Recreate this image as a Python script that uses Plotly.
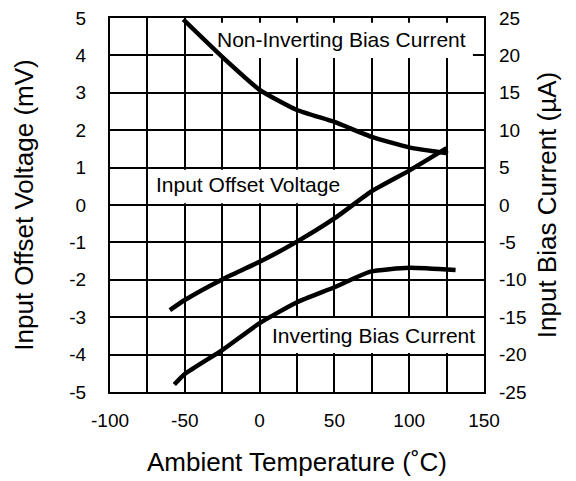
import plotly.graph_objects as go

# ---- data ----
temp_noninv = [-51, -25, 0, 25, 50, 75, 100, 126]
ibias_noninv = [24.8, 19.8, 15.4, 12.7, 11.1, 9.1, 7.7, 6.9]

temp_offset = [-60, -50, -25, 0, 25, 50, 75, 100, 125]
vos_offset = [-2.81, -2.54, -1.99, -1.52, -0.98, -0.36, 0.37, 0.92, 1.52]

temp_inv = [-57, -50, -25, 0, 25, 50, 74, 100, 131]
ibias_inv = [-24.0, -22.6, -19.4, -15.8, -13.0, -11.0, -8.9, -8.4, -8.7]

x_tickvals = [-100, -75, -50, -25, 0, 25, 50, 75, 100, 125, 150]
x_ticktext = ["-100", "", "-50", "", "0", "", "50", "", "100", "", "150"]
y1_tickvals = [-5, -4, -3, -2, -1, 0, 1, 2, 3, 4, 5]
y1_ticktext = ["-5", "-4", "-3", "-2", "-1", "0", "1", "2", "3", "4", "5"]
y2_tickvals = [-25, -20, -15, -10, -5, 0, 5, 10, 15, 20, 25]
y2_ticktext = ["-25", "-20", "-15", "-10", "-5", "0", "5", "10", "15", "20", "25"]

label_noninv = "Non-Inverting Bias Current"
label_offset = "Input Offset Voltage"
label_inv = "Inverting Bias Current"

FONT = "Liberation Sans, Arial, Helvetica, sans-serif"
LINE_W = 4.5

fig = go.Figure()
fig.add_trace(go.Scatter(x=temp_noninv, y=ibias_noninv, yaxis="y2", mode="lines",
                         line=dict(color="black", width=LINE_W, shape="spline", smoothing=0.5),
                         showlegend=False))
fig.add_trace(go.Scatter(x=temp_offset, y=vos_offset, yaxis="y", mode="lines",
                         line=dict(color="black", width=LINE_W, shape="spline", smoothing=0.5),
                         showlegend=False))
fig.add_trace(go.Scatter(x=temp_inv, y=ibias_inv, yaxis="y2", mode="lines",
                         line=dict(color="black", width=LINE_W, shape="spline", smoothing=0.5),
                         showlegend=False))

# white label boxes (above grid, below curves)
boxes = [(-31.1, 142.6, 3.93, 4.87), (-74.6, 58.4, 0.05, 0.94), (4.9, 148.0, -3.96, -3.02)]
for x0, x1, y0, y1 in boxes:
    fig.add_shape(type="rect", xref="x", yref="y", x0=x0, x1=x1, y0=y0, y1=y1,
                  fillcolor="white", line=dict(width=0), layer="between")

anns = [(label_noninv, 54.7, 4.43), (label_offset, -7.5, 0.54), (label_inv, 76.4, -3.50)]
for txt, ax, ay in anns:
    fig.add_annotation(text=txt, x=ax, y=ay, xref="x", yref="y", showarrow=False,
                       font=dict(family=FONT, size=21, color="black"),
                       xanchor="center", yanchor="middle")

fig.update_layout(
    width=576, height=481,
    margin=dict(l=110, r=92, t=18, b=89, autoexpand=False),
    paper_bgcolor="white", plot_bgcolor="white",
    font=dict(family=FONT, color="black"),
    xaxis=dict(range=[-100, 150], tickvals=x_tickvals, ticktext=x_ticktext,
               showgrid=True, gridcolor="black", gridwidth=2,
               showline=True, linecolor="black", linewidth=2, mirror=True,
               ticks="", ticklabelstandoff=10, zeroline=False, automargin=False,
               tickfont=dict(size=19),
               title=dict(text="Ambient Temperature (˚C)", font=dict(size=26), standoff=23)),
    yaxis=dict(range=[-5, 5], tickvals=y1_tickvals, ticktext=y1_ticktext,
               showgrid=True, gridcolor="black", gridwidth=2,
               showline=True, linecolor="black", linewidth=2, mirror=True,
               ticks="", ticklabelstandoff=18, zeroline=False, automargin=False,
               tickfont=dict(size=19),
               title=dict(text="Input Offset Voltage (mV)", font=dict(size=26), standoff=28)),
    yaxis2=dict(range=[-25, 25], tickvals=y2_tickvals, ticktext=y2_ticktext,
                overlaying="y", side="right", showgrid=False, zeroline=False,
                showline=False, ticks="", ticklabelstandoff=14, automargin=False,
                tickfont=dict(size=19),
                title=dict(text="Input Bias Current (µA)", font=dict(size=26), standoff=12)),
)

fig.write_html("out.html", config={"displayModeBar": False},
               post_script="document.body.style.margin='0';")
